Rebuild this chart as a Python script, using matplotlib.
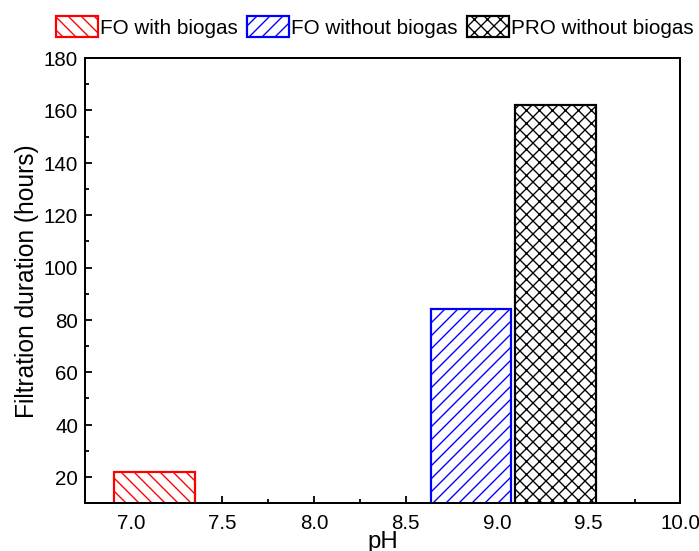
import matplotlib
matplotlib.use('Agg')
from matplotlib import pyplot as plt
from matplotlib.ticker import MultipleLocator

# values
series = ['FO with biogas', 'FO without biogas', 'PRO without biogas']
ph = [7.13, 8.857, 9.318]
duration = [22, 84, 162]
colors = ['red', 'blue', 'black']
hatches = ['\\\\', '//', 'xx']

DPI = 78
plt.rcParams['font.family'] = ['Liberation Sans', 'DejaVu Sans']
plt.rcParams['hatch.linewidth'] = 1.25


def px(v):
    # pixels -> points at this dpi
    return v * 72.0 / DPI


def plot_chart():
    fig = plt.figure(figsize=(699.4 / DPI, 551.4 / DPI), dpi=DPI)
    ax = fig.add_axes([85 / 699, 1 - 503.3 / 551, 595 / 699, 445 / 551])

    for x, h, c, hat, name in zip(ph, duration, colors, hatches, series):
        ax.bar(x, h, width=0.44, bottom=0, color='white', edgecolor=c,
               hatch=hat, linewidth=px(2.2), label=name, zorder=2)

    ax.set_xlim(6.75, 10.0)
    ax.set_ylim(10, 180)
    ax.xaxis.set_major_locator(MultipleLocator(0.5))
    ax.xaxis.set_minor_locator(MultipleLocator(0.25))
    ax.yaxis.set_major_locator(MultipleLocator(20))
    ax.yaxis.set_minor_locator(MultipleLocator(10))
    ax.set_yticks([20, 40, 60, 80, 100, 120, 140, 160, 180])

    for s in ax.spines.values():
        s.set_linewidth(px(2))
    ax.tick_params(which='both', direction='in', top=False, right=False,
                   width=px(1.8), labelsize=px(20.5))
    ax.tick_params(which='major', length=px(7))
    ax.tick_params(which='minor', length=px(4))
    ax.tick_params(axis='y', pad=px(7))
    ax.tick_params(axis='x', pad=px(10))

    ax.set_xlabel('pH', fontsize=px(24), labelpad=px(-2))
    ax.set_ylabel('Filtration duration (hours)', fontsize=px(24.5), labelpad=px(5))

    fig.legend(loc='center', bbox_to_anchor=(374.5 / 699, 1 - 27 / 551), ncol=3,
               frameon=False, fontsize=px(20.6), handlelength=2.05, handleheight=1.2,
               handletextpad=0.12, columnspacing=0.42, borderpad=0, borderaxespad=0)

    plt.savefig('out.png', dpi=DPI)
    plt.close(fig)


if __name__ == '__main__':
    plot_chart()
